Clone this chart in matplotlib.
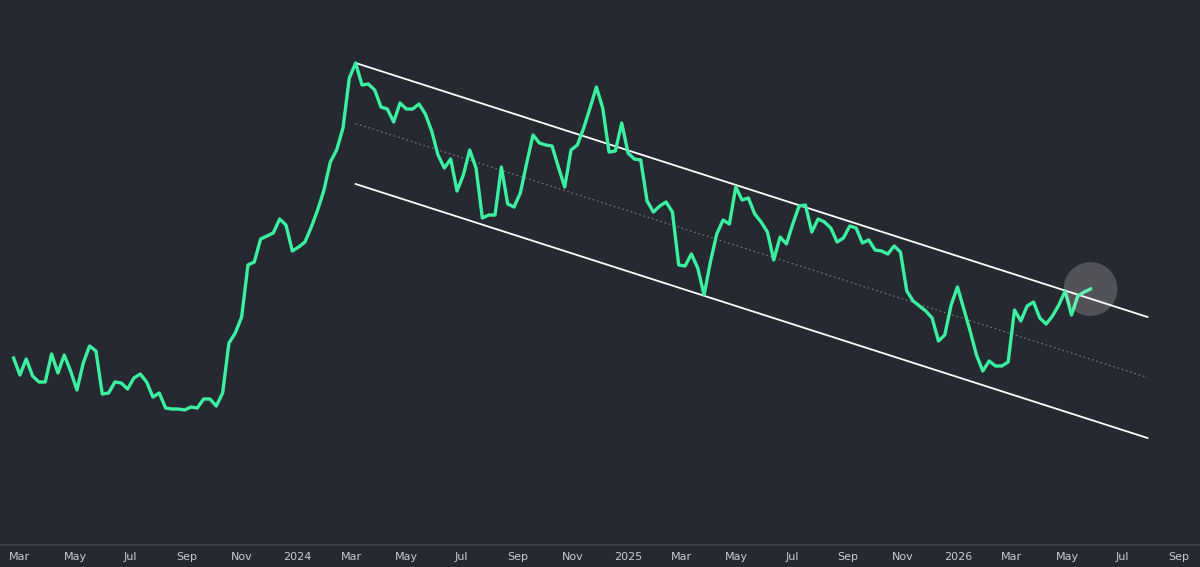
import numpy as np
import pandas as pd
import matplotlib
matplotlib.use("Agg")
import matplotlib.pyplot as plt

# weekly closes, first week starting 2023-02-22 (arbitrary units)
start_date = "2023-02-22"
values = [
    142, 125, 141, 124, 118, 118, 146, 127, 145, 129,
    110, 137, 154, 149, 106, 107, 118, 117, 111, 122,
    126, 118, 103, 107, 92, 91, 91, 90, 93, 92,
    101, 101, 94, 107, 157, 167, 183, 235, 238, 261,
    264, 267, 281, 275, 249, 253, 258, 273, 290, 310,
    338, 350, 372, 422, 437, 415, 416, 410, 393, 391,
    378, 397, 391, 391, 396, 386, 369, 345, 332, 341,
    309, 325, 350, 332, 282, 285, 285, 333, 296, 293,
    307, 337, 365, 357, 355, 354, 333, 313, 350, 355,
    372, 392, 413, 392, 348, 349, 377, 347, 341, 340,
    299, 288, 294, 298, 288, 235, 234, 246, 232, 205,
    238, 266, 280, 276, 313, 300, 302, 286, 278, 268,
    240, 263, 256, 276, 294, 295, 268, 281, 278, 272,
    258, 262, 274, 272, 257, 260, 250, 249, 246, 254,
    248, 209, 199, 194, 189, 182, 159, 165, 195, 213,
    191, 169, 145, 129, 139, 134, 134, 138, 190, 179,
    194, 198, 182, 176, 184, 195, 209, 185, 204, 208, 211,
]

# descending channel drawn on the chart
channel_dates = ["2024-03-06", "2026-07-29"]
channel_upper = [437, 183]
channel_lower = [316, 62]

tick_dates = pd.date_range("2023-03-01", "2026-09-01", freq="2MS")
tick_labels = [str(d.year) if d.month == 1 else d.strftime("%b") for d in tick_dates]

bg = "#262930"
green = "#3bf0a0"

dates = pd.date_range(start_date, periods=len(values), freq="7D")
ch_x = pd.to_datetime(channel_dates)
ch_mid = [(a + b) / 2 for a, b in zip(channel_upper, channel_lower)]

fig = plt.figure(figsize=(12, 5.67), dpi=100, facecolor=bg)
ax = fig.add_axes([0, 22 / 567, 1, 545 / 567], facecolor=bg)

ax.plot(ch_x, channel_upper, color="white", lw=1.3, zorder=2)
ax.plot(ch_x, channel_lower, color="white", lw=1.3, zorder=2)
ax.plot(ch_x, ch_mid, color="#7a7d84", lw=0.8, ls=(0, (1.5, 2.5)), zorder=2)

ax.plot(dates, values, color=green, lw=2.4, solid_joinstyle="round", zorder=3)
ax.scatter(dates[-1:], values[-1:], s=1500, color="white", alpha=0.2,
           edgecolors="none", zorder=4)

ax.set_xlim(pd.Timestamp("2023-02-07"), pd.Timestamp("2026-09-25"))
ax.set_ylim(-45, 500)

ax.set_xticks(tick_dates)
ax.set_xticklabels(tick_labels)
ax.tick_params(axis="x", length=0, pad=5, labelsize=8, labelcolor="#c9cbd1")
ax.set_yticks([])

for side in ["top", "left", "right"]:
    ax.spines[side].set_visible(False)
ax.spines["bottom"].set_color("#44474e")
ax.spines["bottom"].set_linewidth(1.2)

fig.savefig("out.png", dpi=100, facecolor=bg)
